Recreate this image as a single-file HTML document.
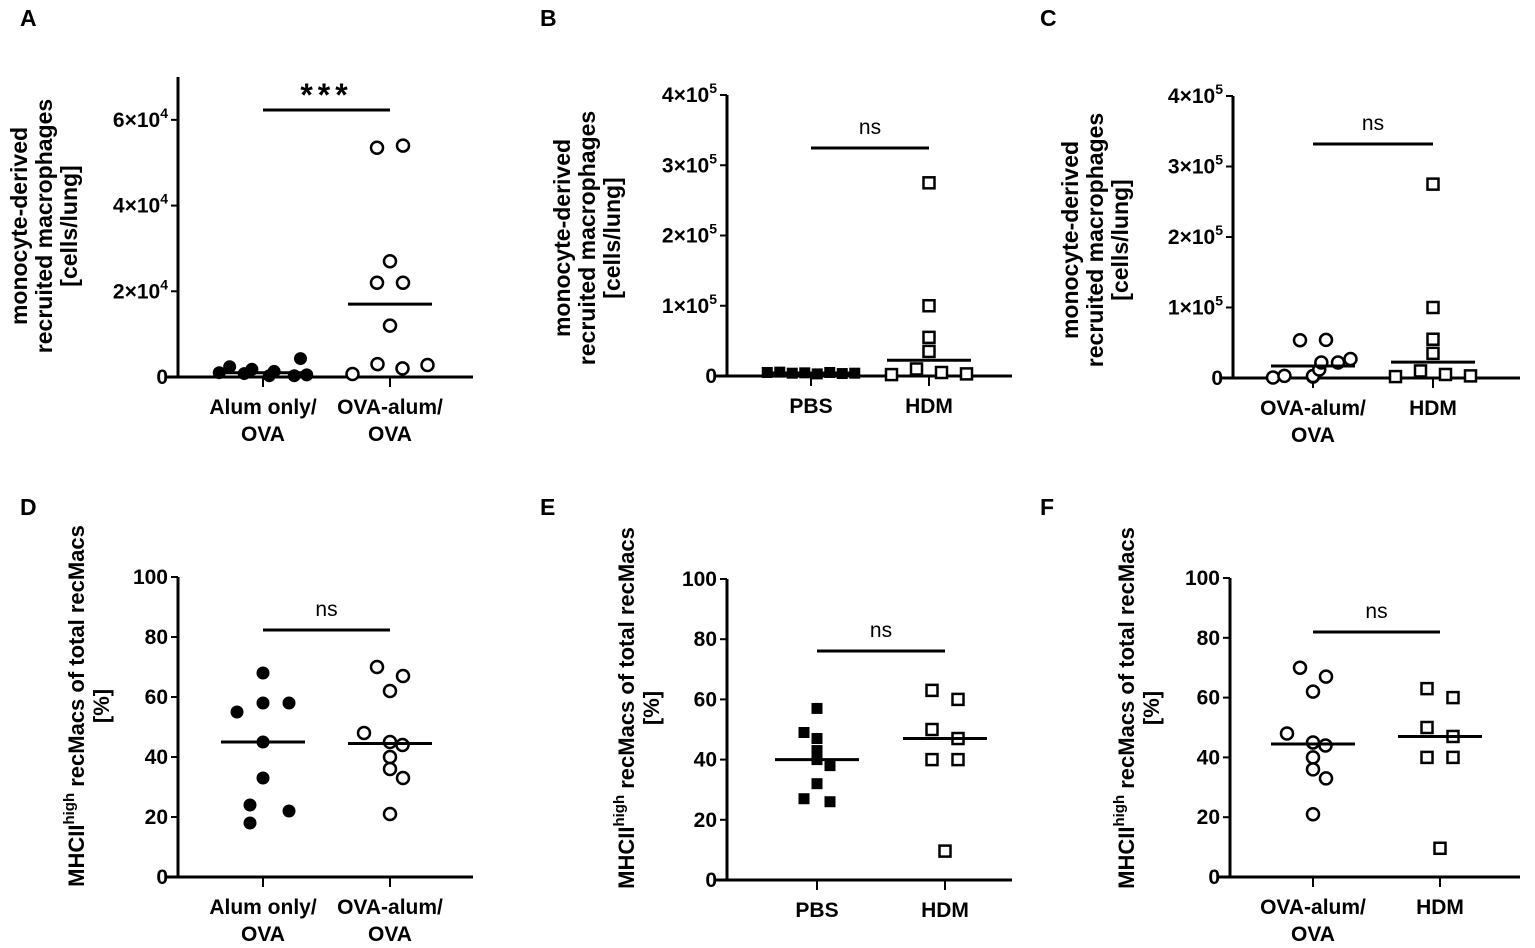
<!DOCTYPE html>
<html><head><meta charset="utf-8"><style>
body{margin:0;background:#fff;}
svg{display:block;font-family:"Liberation Sans",Arial,sans-serif;}
</style></head><body>
<svg id="fig" width="1535" height="948" viewBox="0 0 1535 948"></svg>
<script>
// ---- data ----
const catsA=["Alum only/|OVA","OVA-alum/|OVA"];
const catsB=["PBS","HDM"];
const catsC=["OVA-alum/|OVA","HDM"];
const alumOnlyCells=[1000,2400,800,1800,300,1300,300,4300,500];
const ovaAlumCells=[700,53500,54000,3000,2000,2800,12000,22000,22000,27000];
const pbsCells=[5000,5500,4000,4500,3000,5000,3500,4000];
const hdmCells=[2000,10000,5000,3000,35000,55000,100000,275000];
const alumOnlyMhc=[18,55,45,33,24,58,22,58,68];
const ovaAlumMhc=[70,67,62,48,45,44,40,36,33,21];
const pbsMhc=[57,49,47,43,40,38,32,27,26];
const hdmMhc=[63,60,50,47,40,40,9.6];
const ticksA=[0,20000,40000,60000];
const ticksA_lbl=["0","2×10⁴","4×10⁴","6×10⁴"];
const ticksB=[0,100000,200000,300000,400000];
const ticksB_lbl=["0","1×10⁵","2×10⁵","3×10⁵","4×10⁵"];
const ticksP=[0,20,40,60,80,100];
const ticksP_lbl=["0","20","40","60","80","100"];
const sigA="***", sigB="ns", sigC="ns", sigD="ns", sigE="ns", sigF="ns";

const NS="http://www.w3.org/2000/svg";
const svg=document.getElementById('fig');
function mk(t,a,p){const e=document.createElementNS(NS,t);for(const k in a)e.setAttribute(k,a[k]);(p||svg).appendChild(e);return e;}
function median(a){const s=[...a].sort((x,y)=>x-y),n=s.length;return n%2?s[(n-1)/2]:(s[n/2-1]+s[n/2])/2;}
function jitter(vals,i,range,h){
  let near=0,idx=0;
  vals.forEach((v,j)=>{if(Math.abs(v-vals[i])/range*h<14){if(j<i)idx++;near++;}});
  return (idx-(near-1)/2)*Math.min(26,100/Math.max(near,1));
}
function panel(o){
  const g=mk('g',{});
  
  
  const t=mk('text',{x:o.lx,y:o.ly,'font-size':23,'font-weight':'bold'},g);t.textContent=o.letter;
  
  const h=o.y0-o.yTop;
  const Y=v=>o.y0-(v-o.ymin)/(o.ymax-o.ymin)*h;
  const ya=mk('line',{x1:o.ax,y1:o.yTop,x2:o.ax,y2:o.y0,stroke:'#000','stroke-width':3},g);
  
  const xa=mk('line',{x1:o.ax-12,y1:o.y0,x2:o.xEnd,y2:o.y0,stroke:'#000','stroke-width':3},g);
  
  o.ticks.forEach((v,i)=>{
    mk('line',{x1:o.ax-7,y1:Y(v),x2:o.ax,y2:Y(v),stroke:'#000','stroke-width':2},g);
    const lb=o.tlbl[i];
    const tt=mk('text',{x:o.ax-10,y:Y(v)+7,'font-size':21,'font-weight':'bold','text-anchor':'end'},g);
    if(lb.includes('×')){const m=lb.match(/(.*10)(.)/);tt.textContent=m[1];const s=mk('tspan',{'font-size':14,dy:-9},tt);s.textContent=({'⁴':'4','⁵':'5'})[m[2]];}
    else tt.textContent=lb;
    
  });
  const yt=mk('text',{transform:`translate(${o.tx},${o.ty}) rotate(-90)`,'font-size':o.tfs,'font-weight':'bold','text-anchor':'middle'},g);
  
  o.title.forEach((ln,i)=>{const s=mk('tspan',{x:0,dy:i?25:0},yt);
    if(ln==='MHC'){s.textContent='MHCII';const su=mk('tspan',{'font-size':15,dy:-10},s);su.textContent='high';const r=mk('tspan',{dy:10},s);r.textContent=' recMacs of total recMacs';}
    else s.textContent=ln;});
  o.groups.forEach((gr,gi)=>{
    const cx=o.gx[gi];
    mk('line',{x1:cx,y1:o.y0,x2:cx,y2:o.y0+10,stroke:'#000','stroke-width':2},g);
    gr.cat.split('|').forEach((ln,k)=>{const c=mk('text',{x:cx,y:o.y0+37+k*27,'font-size':21,'font-weight':'bold','text-anchor':'middle'},g);c.textContent=ln;
      });
    gr.vals.forEach((v,i)=>{
      const x=cx+jitter(gr.vals,i,o.ymax-o.ymin,h), y=Y(v);
      let m;
      if(gr.shape==='circle') m=mk('circle',{cx:x,cy:y,r:gr.fill?6.5:6,fill:gr.fill?'#000':'#fff',stroke:'#000','stroke-width':gr.fill?0:2.5},g);
      else m=mk('rect',{x:x-5.5,y:y-5.5,width:11,height:11,fill:gr.fill?'#000':'#fff',stroke:'#000','stroke-width':gr.fill?0:2.5},g);
      
    });
    const mv=median(gr.vals);
    const ml=mk('line',{x1:cx-42,y1:Y(mv),x2:cx+42,y2:Y(mv),stroke:'#000','stroke-width':3},g);
    
  });
  const sb=mk('line',{x1:o.gx[0],y1:o.sigY,x2:o.gx[1],y2:o.sigY,stroke:'#000','stroke-width':3},g);
  
  const st=mk('text',{x:(o.gx[0]+o.gx[1])/2,y:o.sigY-(o.sig==='***'?4:14),'font-size':o.sig==='***'?32:21,'font-weight':o.sig==='***'?'bold':'normal','text-anchor':'middle','letter-spacing':o.sig==='***'?5:0},g);
  st.textContent=o.sig;
}
const T1=["monocyte-derived","recruited macrophages","[cells/lung]"];
const T2=["MHC","[%]"];
panel({letter:'A',lx:20,ly:26,ax:178,yTop:77,y0:377,ymin:0,ymax:70000,xEnd:473,gx:[263,390],ticks:ticksA,tlbl:ticksA_lbl,title:T1,tfs:23,tx:27,ty:226,sig:sigA,sigY:110,
  groups:[{cat:catsA[0],vals:alumOnlyCells,shape:'circle',fill:true},{cat:catsA[1],vals:ovaAlumCells,shape:'circle',fill:false}]});
panel({letter:'B',lx:540,ly:26,ax:727,yTop:95,y0:376,ymin:0,ymax:400000,xEnd:1012,gx:[811,929],ticks:ticksB,tlbl:ticksB_lbl,title:T1,tfs:23,tx:570,ty:238,sig:sigB,sigY:148,
  groups:[{cat:catsB[0],vals:pbsCells,shape:'rect',fill:true},{cat:catsB[1],vals:hdmCells,shape:'rect',fill:false}]});
panel({letter:'C',lx:1040,ly:26,ax:1233,yTop:96,y0:378,ymin:0,ymax:400000,xEnd:1520,gx:[1313,1433],ticks:ticksB,tlbl:ticksB_lbl,title:T1,tfs:23,tx:1078,ty:240,sig:sigC,sigY:144,
  groups:[{cat:catsC[0],vals:ovaAlumCells,shape:'circle',fill:false},{cat:catsC[1],vals:hdmCells,shape:'rect',fill:false}]});
panel({letter:'D',lx:20,ly:515,ax:178,yTop:577,y0:877,ymin:0,ymax:100,xEnd:473,gx:[263,390],ticks:ticksP,tlbl:ticksP_lbl,title:T2,tfs:22,tx:84,ty:706,sig:sigD,sigY:630,
  groups:[{cat:catsA[0],vals:alumOnlyMhc,shape:'circle',fill:true},{cat:catsA[1],vals:ovaAlumMhc,shape:'circle',fill:false}]});
panel({letter:'E',lx:540,ly:515,ax:727,yTop:579,y0:880,ymin:0,ymax:100,xEnd:1012,gx:[817,945],ticks:ticksP,tlbl:ticksP_lbl,title:T2,tfs:22,tx:634,ty:708,sig:sigE,sigY:651,
  groups:[{cat:catsB[0],vals:pbsMhc,shape:'rect',fill:true},{cat:catsB[1],vals:hdmMhc,shape:'rect',fill:false}]});
panel({letter:'F',lx:1040,ly:515,ax:1230,yTop:578,y0:877,ymin:0,ymax:100,xEnd:1520,gx:[1313,1440],ticks:ticksP,tlbl:ticksP_lbl,title:T2,tfs:22,tx:1134,ty:708,sig:sigF,sigY:632,
  groups:[{cat:catsC[0],vals:ovaAlumMhc,shape:'circle',fill:false},{cat:catsC[1],vals:hdmMhc,shape:'rect',fill:false}]});
</script>
</body></html>
